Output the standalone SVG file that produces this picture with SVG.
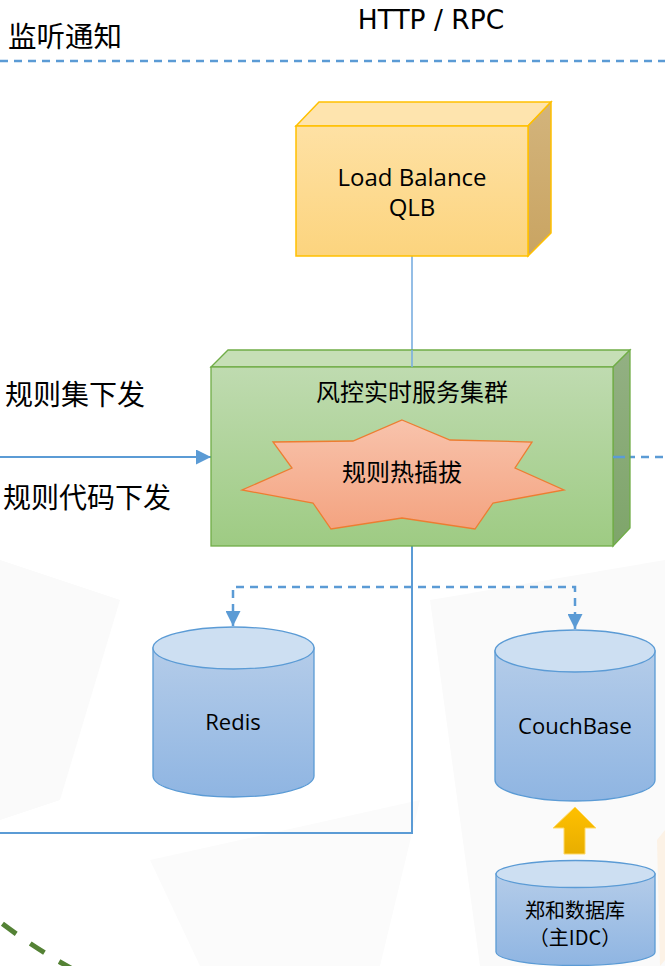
<svg xmlns="http://www.w3.org/2000/svg" width="665" height="966" viewBox="0 0 665 966">
<defs>
<style>
.cjk{font-family:"Noto Sans CJK SC",sans-serif;fill:#000}
.lat{font-family:"Open Sans","Noto Sans CJK SC",sans-serif;fill:#000}
.blue{stroke:#5b9bd5;stroke-width:2;fill:none}
.dash{stroke:#5b9bd5;stroke-width:2.5;fill:none;stroke-dasharray:8 6}
.cyl{stroke:#5b9bd5;stroke-width:1.3}
</style>
<linearGradient id="lbFront" x1="0" y1="0" x2="0" y2="1"><stop offset="0" stop-color="#fee1a4"/><stop offset="1" stop-color="#fcd47e"/></linearGradient>
<linearGradient id="lbSide" x1="0" y1="0" x2="0" y2="1"><stop offset="0" stop-color="#d3b47c"/><stop offset="1" stop-color="#c9a462"/></linearGradient>
<linearGradient id="gFront" x1="0" y1="0" x2="0" y2="1"><stop offset="0" stop-color="#bfdbb0"/><stop offset="1" stop-color="#9ecb83"/></linearGradient>
<linearGradient id="gSide" x1="0" y1="0" x2="0" y2="1"><stop offset="0" stop-color="#93b083"/><stop offset="1" stop-color="#7ea56a"/></linearGradient>
<linearGradient id="star" x1="0" y1="0" x2="0" y2="1"><stop offset="0" stop-color="#f8c3ac"/><stop offset="1" stop-color="#f4a380"/></linearGradient>
<linearGradient id="cylBody" x1="0" y1="0" x2="0" y2="1"><stop offset="0" stop-color="#b4cce9"/><stop offset="1" stop-color="#8fb5e2"/></linearGradient>
<linearGradient id="yArrow" x1="0" y1="0" x2="0" y2="1"><stop offset="0" stop-color="#ffc000"/><stop offset="1" stop-color="#e8ae00"/></linearGradient>
<marker id="ah" viewBox="0 0 15 15" refX="15" refY="7.5" markerWidth="15" markerHeight="15" markerUnits="userSpaceOnUse" orient="auto"><path d="M0,0 L15,7.5 L0,15 Z" fill="#5b9bd5"/></marker>
</defs>
<rect width="665" height="966" fill="#ffffff"/>
<g id="background" fill="#fafafa">
<polygon points="0,560 120,600 60,800 0,820"/>
<polygon points="430,600 665,560 665,966 480,966"/>
<polygon points="150,860 420,800 380,966 200,966" fill="#fbfbfb"/>
<polygon points="657,840 665,830 665,960 660,966" fill="#fcf2e6"/>
</g>
<g id="connectors">
<line x1="0" y1="61" x2="665" y2="61" class="dash"/>
<line x1="412" y1="256" x2="412" y2="367" stroke="#7aaee0" stroke-width="1.6"/>
<line x1="0" y1="457" x2="211" y2="457" class="blue" marker-end="url(#ah)"/>
<line x1="613" y1="457" x2="665" y2="457" class="dash" stroke-dasharray="11 8"/>
<polyline points="412,546 412,833 0,833" class="blue"/>
<polyline points="233,626 233,587 575,587 575,629" class="dash" marker-end="url(#ah)"/>
<line x1="233" y1="600" x2="233" y2="626" stroke="none" marker-end="url(#ah)"/>
<path d="M0,922 Q90,990 180,1010" stroke="#548235" stroke-width="5" fill="none" stroke-dasharray="17 17" stroke-dashoffset="-3"/>
</g>
<g id="label-listen"><text x="8" y="47" class="cjk" font-size="28.5">监听通知</text></g>
<g id="label-http"><text x="431" y="29" font-family="'DejaVu Sans',sans-serif" font-size="26.5" text-anchor="middle" fill="#000">HTTP / RPC</text></g>
<g id="label-ruleset"><text x="5" y="405" class="cjk" font-size="28">规则集下发</text></g>
<g id="label-rulecode"><text x="3" y="508" class="cjk" font-size="28">规则代码下发</text></g>
<g id="load-balance">
<polygon points="296,126 319,102 551,102 528,126" fill="#fee4ae" stroke="#ffc000" stroke-width="1.5"/>
<polygon points="528,126 551,102 551,233 528,256" fill="url(#lbSide)" stroke="#ffc000" stroke-width="1.5"/>
<rect x="296" y="126" width="232" height="130" fill="url(#lbFront)" stroke="#ffc000" stroke-width="1.5"/>
<text x="412" y="186" class="lat" font-size="24" text-anchor="middle">Load Balance</text>
<text x="412" y="216" class="lat" font-size="24" text-anchor="middle">QLB</text>
</g>
<g id="risk-cluster">
<polygon points="211,367 228,350 630,350 613,367" fill="#c6dfb6" stroke="#70ad47" stroke-width="1.3"/>
<polygon points="613,367 630,350 630,528 613,546" fill="url(#gSide)" stroke="#70ad47" stroke-width="1.3"/>
<rect x="211" y="367" width="402" height="179" fill="url(#gFront)" stroke="#70ad47" stroke-width="1.3"/>
<line x1="412" y1="350" x2="412" y2="367" stroke="#7aaee0" stroke-width="1.6"/>
<line x1="613" y1="457" x2="625" y2="457" stroke="#5b9bd5" stroke-width="2.5"/>
<text x="412" y="401" class="cjk" font-size="24" text-anchor="middle">风控实时服务集群</text>
</g>
<g id="hot-plug">
<polygon points="402,420 450,440 532,442 515,468 564,490 493,503 475,529 402,518 331,529 313,503 242,490 292,468 273,442 353,441" fill="url(#star)" stroke="#ed7d31" stroke-width="1.3"/>
<text x="402" y="481" class="cjk" font-size="24" text-anchor="middle">规则热插拔</text>
</g>
<g id="redis">
<path d="M153,648 L153,776 A80.5,21 0 0 0 314,776 L314,648 Z" fill="url(#cylBody)" class="cyl"/>
<ellipse cx="233.5" cy="648" rx="80.5" ry="21" fill="#cddff2" class="cyl"/>
<text x="233" y="730" class="lat" font-size="22" text-anchor="middle">Redis</text>
</g>
<g id="couchbase">
<path d="M495,651 L495,780 A80,21 0 0 0 655,780 L655,651 Z" fill="url(#cylBody)" class="cyl"/>
<ellipse cx="575" cy="651" rx="80" ry="21" fill="#cddff2" class="cyl"/>
<text x="575" y="734" class="lat" font-size="22" text-anchor="middle">CouchBase</text>
</g>
<g id="sync-arrow">
<polygon points="575,807 596,828 585,828 585,854 564,854 564,828 553,828" fill="url(#yArrow)" stroke="#ffd966" stroke-width="1"/>
</g>
<g id="zhenghe-db">
<path d="M496,874 L496,952 A79.5,13.5 0 0 0 655,952 L655,874 Z" fill="url(#cylBody)" class="cyl"/>
<ellipse cx="575.5" cy="874" rx="79.5" ry="13.5" fill="#cddff2" class="cyl"/>
<text x="575" y="918" class="cjk" font-size="20" text-anchor="middle">郑和数据库</text>
<text x="575" y="945" class="cjk" font-size="20" text-anchor="middle">（主IDC）</text>
</g>
</svg>
